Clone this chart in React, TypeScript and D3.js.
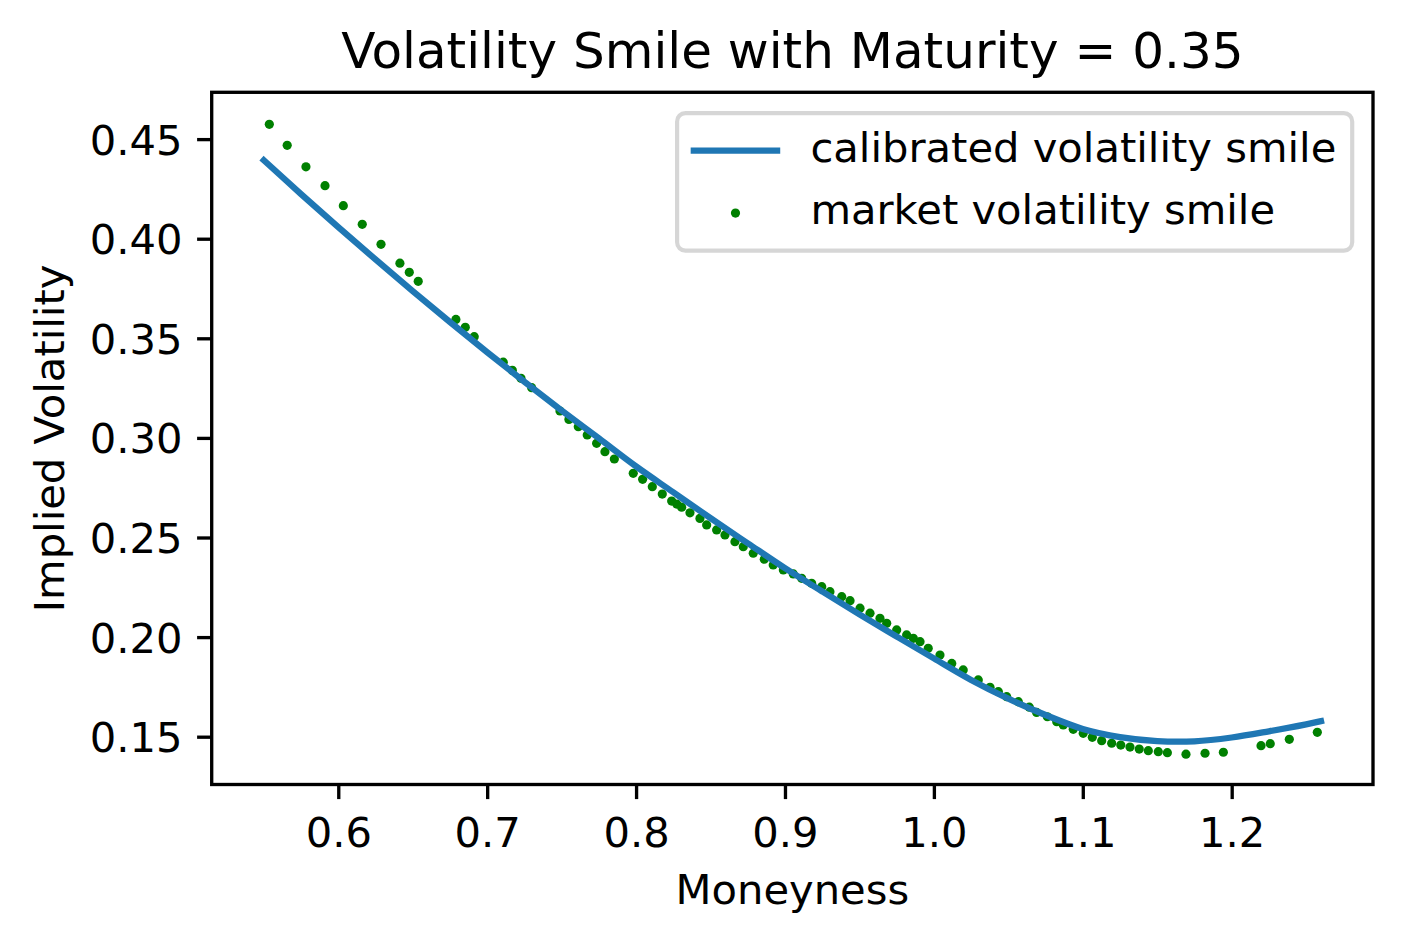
// App.tsx
//
// Volatility smile at maturity 0.35: market implied vols (green dots)
// against the calibrated model smile (blue line).
// D3 owns the <svg> through a ref; React only mounts it.

import * as d3 from "d3";
import React, { useEffect, useRef } from "react";

// ── Data ──────────────────────────────────────────────────────────────────────
const marketMoneyness = [
  0.5537, 0.5657, 0.5783, 0.5911, 0.6034, 0.6161, 0.6287, 0.6414, 0.6477, 0.6537,
  0.6790, 0.6853, 0.6913, 0.7108, 0.7169, 0.7227, 0.7299, 0.7489, 0.7549, 0.7612,
  0.7672, 0.7735, 0.7791, 0.7854, 0.7981, 0.8044, 0.8109, 0.8176, 0.8239, 0.8273,
  0.8306, 0.8362, 0.8429, 0.8474, 0.8541, 0.8597, 0.8664, 0.8720, 0.8787, 0.8861,
  0.8921, 0.8989, 0.9056, 0.9112, 0.9179, 0.9247, 0.9302, 0.9381, 0.9437, 0.9504,
  0.9571, 0.9638, 0.9683, 0.9750, 0.9817, 0.9862, 0.9907, 0.9962, 1.0041, 1.0120,
  1.0197, 1.0298, 1.0377, 1.0433, 1.0489, 1.0567, 1.0641, 1.0690, 1.0762, 1.0825,
  1.0869, 1.0936, 1.1003, 1.1064, 1.1127, 1.1194, 1.1255, 1.1317, 1.1379, 1.1440,
  1.1507, 1.1568, 1.1693, 1.1821, 1.1944, 1.2197, 1.2259, 1.2387, 1.2575,
];

const marketVol = [
  0.4574, 0.4469, 0.4361, 0.4266, 0.4166, 0.4072, 0.3972, 0.3877, 0.3831, 0.3786,
  0.3595, 0.3555, 0.3508, 0.3380, 0.3339, 0.3299, 0.3252, 0.3135, 0.3093, 0.3056,
  0.3015, 0.2973, 0.2931, 0.2894, 0.2822, 0.2792, 0.2755, 0.2718, 0.2683, 0.2668,
  0.2652, 0.2624, 0.2596, 0.2563, 0.2538, 0.2513, 0.2479, 0.2454, 0.2421, 0.2391,
  0.2362, 0.2337, 0.2317, 0.2295, 0.2270, 0.2253, 0.2228, 0.2203, 0.2183, 0.2145,
  0.2120, 0.2094, 0.2069, 0.2036, 0.2011, 0.1994, 0.1977, 0.1944, 0.1910, 0.1868,
  0.1835, 0.1785, 0.1748, 0.1726, 0.1701, 0.1676, 0.1648, 0.1622, 0.1600, 0.1575,
  0.1559, 0.1537, 0.1517, 0.1497, 0.1480, 0.1467, 0.1458, 0.1448, 0.1438, 0.1430,
  0.1425, 0.1420, 0.1412, 0.1417, 0.1422, 0.1455, 0.1465, 0.1487, 0.1522,
];

const fitMoneyness = [
  0.55, 0.575, 0.6, 0.625, 0.65, 0.675, 0.7, 0.725, 0.75, 0.775,
  0.8, 0.825, 0.85, 0.875, 0.9, 0.925, 0.95, 0.975, 1.0, 1.025,
  1.05, 1.075, 1.1, 1.125, 1.15, 1.175, 1.2, 1.225, 1.25, 1.26,
];

const fitVol = [
  0.4394, 0.4224, 0.4058, 0.3896, 0.3737, 0.3582, 0.3430, 0.3282, 0.3138, 0.2998,
  0.2857, 0.2727, 0.2597, 0.2471, 0.2346, 0.2229, 0.2114, 0.2003, 0.1893, 0.1785,
  0.1691, 0.1609, 0.1539, 0.1498, 0.1478, 0.1477, 0.1496, 0.1527, 0.1562, 0.1578,
];

const xTickValues = [0.6, 0.7, 0.8, 0.9, 1.0, 1.1, 1.2];
const yTickValues = [0.15, 0.2, 0.25, 0.3, 0.35, 0.4, 0.45];

const TITLE = "Volatility Smile with Maturity = 0.35";
const X_LABEL = "Moneyness";
const Y_LABEL = "Implied Volatility";
const seriesLabels = ["calibrated volatility smile", "market volatility smile"];

// ── Layout / style ────────────────────────────────────────────────────────────
const WIDTH = 1403;
const HEIGHT = 945;
const PLOT = { left: 211.7, right: 1373, top: 92.3, bottom: 784.5 };
const X_DOMAIN: [number, number] = [0.515, 1.2949];
const Y_DOMAIN: [number, number] = [0.126, 0.4735];

const FONT = "'DejaVu Sans', sans-serif";
const FS = 41.67;          // 10pt @ 300dpi
const TITLE_FS = 50;       // 12pt
const BLUE = "#1f77b4";
const GREEN = "#008000";
const LW = 6.25;           // 1.5pt line
const SPINE = 3.33;        // 0.8pt
const TICK = 14.6;         // 3.5pt
const DOT_R = 4.6;

export default function App() {
  const svgRef = useRef<SVGSVGElement>(null);

  useEffect(() => {
    const svg = d3.select(svgRef.current);
    svg.selectAll("*").remove();

    const x = d3.scaleLinear().domain(X_DOMAIN).range([PLOT.left, PLOT.right]);
    const y = d3.scaleLinear().domain(Y_DOMAIN).range([PLOT.bottom, PLOT.top]);

    svg.append("rect").attr("width", WIDTH).attr("height", HEIGHT).attr("fill", "#fff");

    // ── Market points (drawn under the line, like matplotlib zorder) ─────────
    svg
      .append("g")
      .selectAll("circle")
      .data(d3.zip(marketMoneyness, marketVol))
      .join("circle")
      .attr("cx", (d) => x(d[0]))
      .attr("cy", (d) => y(d[1]))
      .attr("r", DOT_R)
      .attr("fill", GREEN);

    // ── Calibrated smile ─────────────────────────────────────────────────────
    const line = d3
      .line<number[]>()
      .x((d) => x(d[0]))
      .y((d) => y(d[1]))
      .curve(d3.curveCatmullRom.alpha(0.5));

    svg
      .append("path")
      .datum(d3.zip(fitMoneyness, fitVol))
      .attr("d", line)
      .attr("fill", "none")
      .attr("stroke", BLUE)
      .attr("stroke-width", LW)
      .attr("stroke-linecap", "square")
      .attr("stroke-linejoin", "round");

    // ── Axes ────────────────────────────────────────────────────────────────
    const gx = svg
      .append("g")
      .attr("transform", `translate(0,${PLOT.bottom})`)
      .call(
        d3.axisBottom(x)
          .tickValues(xTickValues)
          .tickFormat(d3.format(".1f"))
          .tickSize(TICK)
          .tickPadding(TICK)
      );
    gx.select(".domain").remove();
    gx.attr("font-family", FONT).attr("font-size", FS);
    gx.selectAll("line").attr("stroke", "#000").attr("stroke-width", SPINE);
    gx.selectAll("text").attr("y", 62.5).attr("dy", null).attr("fill", "#000");

    const gy = svg
      .append("g")
      .attr("transform", `translate(${PLOT.left},0)`)
      .call(
        d3.axisLeft(y)
          .tickValues(yTickValues)
          .tickFormat(d3.format(".2f"))
          .tickSize(TICK)
          .tickPadding(TICK)
      );
    gy.select(".domain").remove();
    gy.attr("font-family", FONT).attr("font-size", FS);
    gy.selectAll("line").attr("stroke", "#000").attr("stroke-width", SPINE);
    gy.selectAll("text").attr("dy", "0.36em").attr("fill", "#000");

    // Frame (spines)
    svg
      .append("rect")
      .attr("x", PLOT.left)
      .attr("y", PLOT.top)
      .attr("width", PLOT.right - PLOT.left)
      .attr("height", PLOT.bottom - PLOT.top)
      .attr("fill", "none")
      .attr("stroke", "#000")
      .attr("stroke-width", SPINE);

    // ── Labels ──────────────────────────────────────────────────────────────
    const cx = (PLOT.left + PLOT.right) / 2;
    svg
      .append("text")
      .attr("x", cx)
      .attr("y", 68)
      .attr("text-anchor", "middle")
      .attr("font-family", FONT)
      .attr("font-size", TITLE_FS)
      .text(TITLE);

    svg
      .append("text")
      .attr("x", cx)
      .attr("y", 904)
      .attr("text-anchor", "middle")
      .attr("font-family", FONT)
      .attr("font-size", FS)
      .text(X_LABEL);

    svg
      .append("text")
      .attr("transform", `translate(63.5,${(PLOT.top + PLOT.bottom) / 2}) rotate(-90)`)
      .attr("text-anchor", "middle")
      .attr("font-family", FONT)
      .attr("font-size", FS)
      .text(Y_LABEL);

    // ── Legend ──────────────────────────────────────────────────────────────
    const lg = svg.append("g");
    lg.append("rect")
      .attr("x", 677.1)
      .attr("y", 113.1)
      .attr("width", 675.1)
      .attr("height", 137.5)
      .attr("rx", 8.3)
      .attr("fill", "#fff")
      .attr("fill-opacity", 0.8)
      .attr("stroke", "#cccccc")
      .attr("stroke-opacity", 0.8)
      .attr("stroke-width", 4.17);

    lg.append("line")
      .attr("x1", 693.8)
      .attr("x2", 777.1)
      .attr("y1", 150.6)
      .attr("y2", 150.6)
      .attr("stroke", BLUE)
      .attr("stroke-width", LW)
      .attr("stroke-linecap", "square");

    lg.append("circle").attr("cx", 735.5).attr("cy", 213.1).attr("r", DOT_R).attr("fill", GREEN);

    lg.selectAll("text.lbl")
      .data(seriesLabels)
      .join("text")
      .attr("class", "lbl")
      .attr("x", 810.4)
      .attr("y", (_, i) => 161.5 + i * 62.5)
      .attr("font-family", FONT)
      .attr("font-size", FS)
      .text((d) => d);
  }, []);

  return (
    <svg
      ref={svgRef}
      width={WIDTH}
      height={HEIGHT}
      style={{ position: "absolute", left: 0, top: 0, display: "block" }}
    />
  );
}
